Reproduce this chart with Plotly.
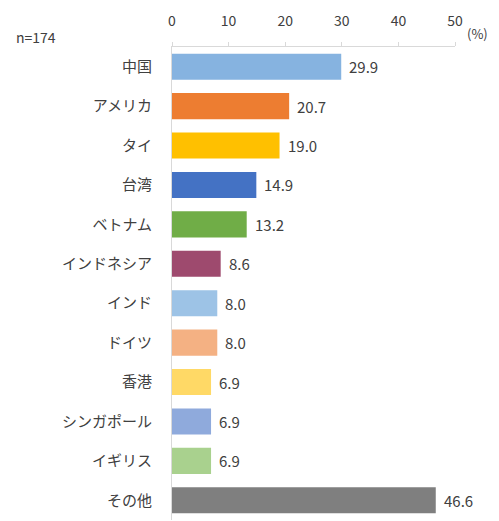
import plotly.graph_objects as go

categories = ["中国", "アメリカ", "タイ", "台湾", "ベトナム", "インドネシア", "インド",
              "ドイツ", "香港", "シンガポール", "イギリス", "その他"]
values = [29.9, 20.7, 19.0, 14.9, 13.2, 8.6, 8.0, 8.0, 6.9, 6.9, 6.9, 46.6]
colors = ["#86b3e0", "#ed7d31", "#ffc000", "#4472c4", "#70ad47", "#9e4a6e", "#9dc3e6",
          "#f4b183", "#ffd966", "#8faadc", "#a9d18e", "#7f7f7f"]
tick_vals = [0, 10, 20, 30, 40, 50]

FONT = "Noto Sans CJK JP, Noto Sans, sans-serif"
TXT = "#404040"

fig = go.Figure()
fig.add_trace(go.Bar(
    x=values, y=categories, orientation="h",
    marker=dict(color=colors, line=dict(width=0)),
    hoverinfo="skip",
))

for c, v in zip(categories, values):
    fig.add_annotation(x=v, y=c, text=f"{v:.1f}", showarrow=False,
                       xanchor="left", xshift=6, yshift=0,
                       font=dict(family=FONT, size=15, color=TXT))

fig.add_annotation(xref="paper", yref="paper", x=-0.56, y=1.0, yshift=10,
                   text="n=174", showarrow=False, xanchor="left", yanchor="middle",
                   font=dict(family=FONT, size=14, color=TXT))
fig.add_annotation(xref="paper", yref="paper", x=1.0, y=1.0, yshift=14, xshift=10,
                   text="(%)", showarrow=False, xanchor="left", yanchor="middle",
                   font=dict(family=FONT, size=13, color=TXT))

fig.update_layout(
    width=499, height=521,
    margin=dict(l=172, r=44, t=47, b=1),
    paper_bgcolor="white", plot_bgcolor="white",
    showlegend=False,
    bargap=0.34,
    xaxis=dict(side="top", range=[0, 50], tickvals=tick_vals,
               showgrid=False, zeroline=False,
               showline=True, linecolor="#d9d9d9", linewidth=1,
               ticks="outside", ticklen=4, tickcolor="#d9d9d9",
               tickfont=dict(family=FONT, size=14, color=TXT),
               ticklabelstandoff=10, fixedrange=True),
    yaxis=dict(autorange="reversed", categoryorder="array", categoryarray=categories,
               showgrid=False, zeroline=False,
               showline=True, linecolor="#d9d9d9", linewidth=1,
               ticks="", ticklabelstandoff=16,
               tickfont=dict(family=FONT, size=15, color=TXT), fixedrange=True),
)

fig.write_html("out.html")
